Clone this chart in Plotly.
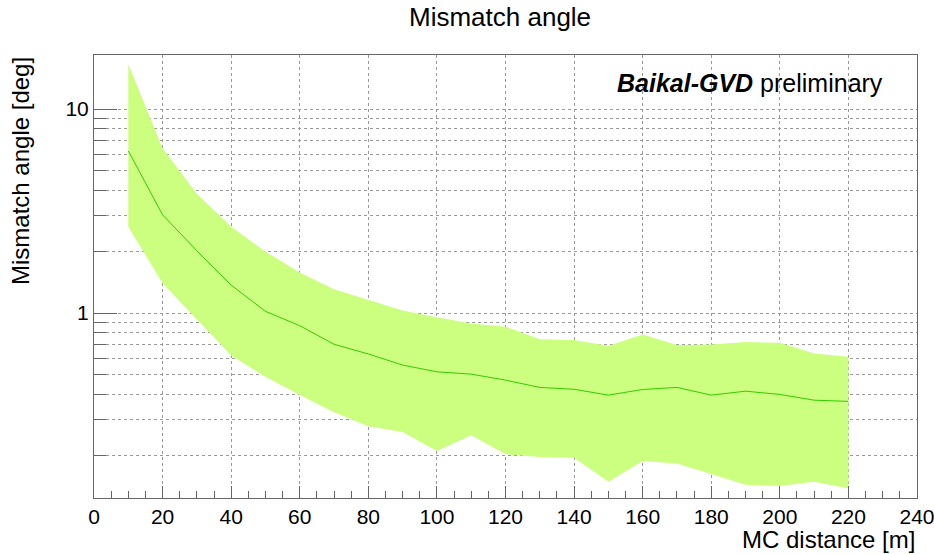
import plotly.graph_objects as go

# Data
distance = [10, 20, 30, 40, 50, 60, 70, 80, 90, 100, 110, 120, 130, 140, 150, 160, 170, 180, 190, 200, 210, 220]
angle_mean = [6.24, 3.03, 2.02, 1.37, 1.02, 0.867, 0.703, 0.63, 0.556, 0.515, 0.502, 0.469, 0.432, 0.423, 0.396, 0.422, 0.432, 0.396, 0.414, 0.399, 0.374, 0.369]
angle_upper = [16.6, 6.43, 3.85, 2.65, 2.0, 1.58, 1.31, 1.16, 1.03, 0.953, 0.889, 0.857, 0.745, 0.737, 0.691, 0.785, 0.697, 0.702, 0.721, 0.715, 0.634, 0.610]
angle_lower = [2.65, 1.40, 0.93, 0.62, 0.487, 0.396, 0.326, 0.279, 0.261, 0.211, 0.252, 0.203, 0.197, 0.195, 0.149, 0.188, 0.183, 0.163, 0.144, 0.142, 0.149, 0.138]

x_ticks = list(range(0, 241, 20))
x_minor = [v for v in range(0, 241, 5) if v % 20 != 0]
y_major = [1, 10]
y_minor = [0.2, 0.3, 0.4, 0.5, 0.6, 0.7, 0.8, 0.9, 2, 3, 4, 5, 6, 7, 8, 9]

FONT = "Liberation Sans, Arial, sans-serif"
AXIS_COL = "#666666"
GRID_COL = "#9a9a9a"

fig = go.Figure()
fig.add_trace(go.Scatter(
    x=distance + distance[::-1],
    y=angle_upper + angle_lower[::-1],
    fill="toself", fillcolor="#ccff7f",
    line=dict(width=0), mode="lines", hoverinfo="skip", showlegend=False,
))
fig.add_trace(go.Scatter(
    x=distance, y=angle_mean, mode="lines",
    line=dict(color="#33cc00", width=1), showlegend=False,
))

fig.update_layout(
    width=934, height=554,
    margin=dict(l=94, r=17, t=55, b=56),
    paper_bgcolor="white", plot_bgcolor="white",
    font=dict(family=FONT, color="black", size=21),
    showlegend=False,
    xaxis=dict(
        range=[0, 240], tickvals=x_ticks, ticktext=[str(v) for v in x_ticks],
        ticks="inside", ticklen=12, tickcolor=AXIS_COL, tickwidth=1,
        showline=True, linecolor=AXIS_COL, linewidth=1, mirror=True,
        showgrid=True, gridcolor=GRID_COL, griddash="dot", gridwidth=1,
        zeroline=False, tickfont=dict(size=21), ticklabeloverflow="allow",
        automargin=False,
        minor=dict(tickvals=x_minor, ticks="inside", ticklen=7, tickcolor=AXIS_COL, showgrid=False),
    ),
    yaxis=dict(
        type="log", range=[-0.9067, 1.2651],
        tickvals=y_major, ticktext=["1", "10"],
        ticks="inside", ticklen=23, tickcolor=AXIS_COL, tickwidth=1,
        showline=True, linecolor=AXIS_COL, linewidth=1, mirror=True,
        showgrid=True, gridcolor=GRID_COL, griddash="dot", gridwidth=1,
        zeroline=False, tickfont=dict(size=21), automargin=False,
        minor=dict(tickvals=y_minor, ticks="inside", ticklen=12, tickcolor=AXIS_COL,
                   showgrid=True, gridcolor=GRID_COL, griddash="dot", gridwidth=1),
    ),
    annotations=[
        dict(text="Mismatch angle", xref="paper", yref="paper",
             x=(500 - 94) / 823, y=(498 - 17) / 443, xanchor="center", yanchor="middle",
             showarrow=False, font=dict(size=26)),
        dict(text="Mismatch angle [deg]", xref="paper", yref="paper",
             x=(20 - 94) / 823, y=1, xanchor="center", yanchor="top", textangle=-90,
             showarrow=False, font=dict(size=24)),
        dict(text="MC distance [m]", xref="paper", yref="paper",
             x=1, y=(498 - 539) / 443, xanchor="right", yanchor="middle",
             showarrow=False, font=dict(size=24)),
        dict(text="<b><i>Baikal-GVD</i></b> preliminary", xref="paper", yref="paper",
             x=(885 - 94) / 823, y=(498 - 83) / 443, xanchor="right", yanchor="middle",
             showarrow=False, font=dict(size=25)),
    ],
)

fig.write_html(
    "out.html",
    config={"displayModeBar": False},
    post_script="document.body.style.margin='0';document.body.style.overflow='hidden';",
)
